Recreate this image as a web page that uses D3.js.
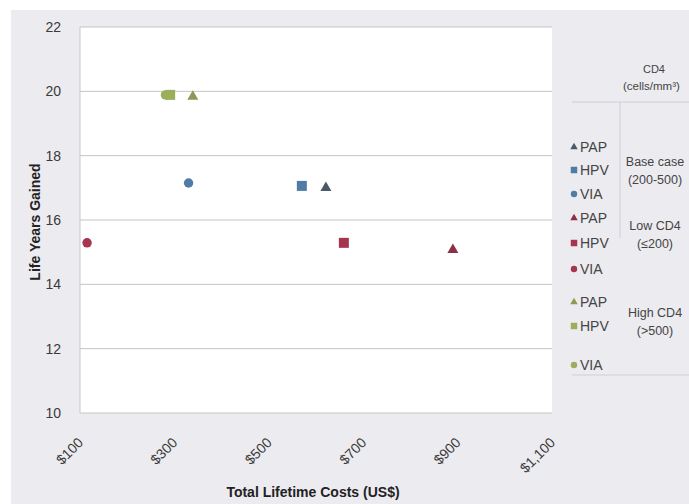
<!DOCTYPE html>
<html>
<head>
<meta charset="utf-8">
<script src="https://cdn.jsdelivr.net/npm/d3@7"></script>
<style>
  body { margin: 0; background: #fff; }
  text { font-family: "Liberation Sans", Arial, sans-serif; }
</style>
</head>
<body>
<div id="chart-area"></div>
<script>
// Data
var groups = ["Base case", "Low CD4", "High CD4"];
var groupSub = ["(200-500)", "(\u2264200)", "(>500)"];
var strategies = ["PAP", "HPV", "VIA"];
var costBase = [621, 570, 330];
var costLow = [890, 659, 115];
var costHigh = [339, 291, 281];
var lygBase = [17.0, 17.06, 17.15];
var lygLow = [15.07, 15.29, 15.29];
var lygHigh = [19.84, 19.89, 19.89];
var xTicks = [100, 300, 500, 700, 900, 1100];
var yTicks = [10, 12, 14, 16, 18, 20, 22];

var colors = ["#4f7ca6", "#a8354f", "#9aae5c"];
var triColors = ["#4c5866", "#8c3145", "#8b9a55"];

var W = 689, H = 504;
var margin = { left: 80, top: 27, right: 137, bottom: 91 },
    width = W - margin.left - margin.right,
    height = H - margin.top - margin.bottom;

var svg = d3.select("#chart-area").append("svg")
    .attr("width", W)
    .attr("height", H);

// gray page background
svg.append("rect")
    .attr("x", 11).attr("y", 10)
    .attr("width", W - 11).attr("height", H - 10)
    .attr("fill", "#ecebf0");

var g = svg.append("g")
    .attr("transform", "translate(" + margin.left + "," + margin.top + ")");

g.append("rect")
    .attr("width", width).attr("height", height)
    .attr("fill", "#ffffff");

var x = d3.scaleLinear().domain([100, 1100]).range([0, width]);
var y = d3.scaleLinear().domain([10, 22]).range([height, 0]);

// gridlines
g.selectAll(".grid").data(yTicks).enter().append("line")
    .attr("class", "grid")
    .attr("x1", 0).attr("x2", width)
    .attr("y1", function(d){ return y(d); })
    .attr("y2", function(d){ return y(d); })
    .attr("stroke", "#c4c4c4")
    .attr("stroke-width", 1);

// left axis line
g.append("line")
    .attr("x1", 0).attr("x2", 0).attr("y1", 0).attr("y2", height)
    .attr("stroke", "#c8c8c8");

var tickFont = "Lato, 'Open Sans', sans-serif";

// y tick labels
var yAxis = g.append("g").call(d3.axisLeft(y).tickValues(yTicks).tickSize(0).tickPadding(19));
yAxis.select(".domain").remove();
yAxis.selectAll("text")
    .attr("font-family", tickFont)
    .attr("font-size", "14px")
    .attr("fill", "#3a3a3a");

// x tick labels, rotated
var fmt = d3.format("$,");
var xAxis = g.append("g")
    .attr("transform", "translate(0," + height + ")")
    .call(d3.axisBottom(x).tickValues(xTicks).tickSize(0).tickFormat(fmt));
xAxis.select(".domain").remove();
xAxis.selectAll("text")
    .attr("font-family", tickFont)
    .attr("font-size", "14px")
    .attr("fill", "#3a3a3a")
    .attr("text-anchor", "end")
    .attr("transform", "translate(0,27) rotate(-45)")
    .attr("dy", "0.35em")
    .attr("y", 0);

// axis titles
svg.append("text")
    .attr("transform", "translate(40,222) rotate(-90)")
    .attr("text-anchor", "middle")
    .attr("font-family", tickFont)
    .attr("font-weight", "bold")
    .attr("font-size", "14px")
    .attr("fill", "#222")
    .text("Life Years Gained");

svg.append("text")
    .attr("x", 313).attr("y", 497)
    .attr("text-anchor", "middle")
    .attr("font-family", tickFont)
    .attr("font-weight", "bold")
    .attr("font-size", "14px")
    .attr("fill", "#222")
    .text("Total Lifetime Costs (US$)");

// points
var costs = [costBase, costLow, costHigh];
var lygs = [lygBase, lygLow, lygHigh];
var points = [];
// draw order: VIA, HPV, PAP so HPV square sits on top of VIA
groups.forEach(function(grp, gi){
    [2, 1, 0].forEach(function(si){
        points.push({ group: gi, strat: si, cost: costs[gi][si], lyg: lygs[gi][si] });
    });
});

var symTypes = [d3.symbolTriangle, d3.symbolSquare, d3.symbolCircle];
var symSizes = [52, 100, 70];

g.selectAll(".pt").data(points).enter().append("path")
    .attr("class", "pt")
    .attr("transform", function(d){ return "translate(" + x(d.cost) + "," + y(d.lyg) + ")"; })
    .attr("d", function(d){ return d3.symbol().type(symTypes[d.strat]).size(symSizes[d.strat])(); })
    .attr("fill", function(d){ return d.strat === 0 ? triColors[d.group] : colors[d.group]; });

// legend table
var leg = svg.append("g");
var lineCol = "#cfcfd6";
leg.append("line").attr("x1", 572).attr("x2", W).attr("y1", 102).attr("y2", 102).attr("stroke", lineCol);
leg.append("line").attr("x1", 572).attr("x2", W).attr("y1", 375).attr("y2", 375).attr("stroke", lineCol);
leg.append("line").attr("x1", 620).attr("x2", 620).attr("y1", 102).attr("y2", 238).attr("stroke", lineCol);

leg.append("text").attr("x", 654).attr("y", 73).attr("text-anchor", "middle")
    .attr("font-size", "11px").attr("fill", "#444").text("CD4");
leg.append("text").attr("x", 623).attr("y", 90)
    .attr("font-size", "11.5px").attr("fill", "#444").text("(cells/mm\u00b3)");

var rowY = [152, 175, 199, 223, 248, 274, 307, 331, 370];
var groupY = [166, 230, 317];

groups.forEach(function(grp, gi){
    strategies.forEach(function(s, si){
        var ry = rowY[gi * 3 + si];
        leg.append("path")
            .attr("transform", "translate(574," + (ry - 5) + ")")
            .attr("d", d3.symbol().type(symTypes[si]).size([24, 42, 32][si])())
            .attr("fill", si === 0 ? triColors[gi] : colors[gi]);
        leg.append("text").attr("x", 580).attr("y", ry)
            .attr("font-size", "14px").attr("fill", "#444").text(s);
    });
    leg.append("text").attr("x", 655).attr("y", groupY[gi]).attr("text-anchor", "middle")
        .attr("font-size", "12.5px").attr("fill", "#444").text(grp);
    leg.append("text").attr("x", 655).attr("y", groupY[gi] + 18).attr("text-anchor", "middle")
        .attr("font-size", "12.5px").attr("fill", "#444").text(groupSub[gi]);
});
</script>
</body>
</html>
